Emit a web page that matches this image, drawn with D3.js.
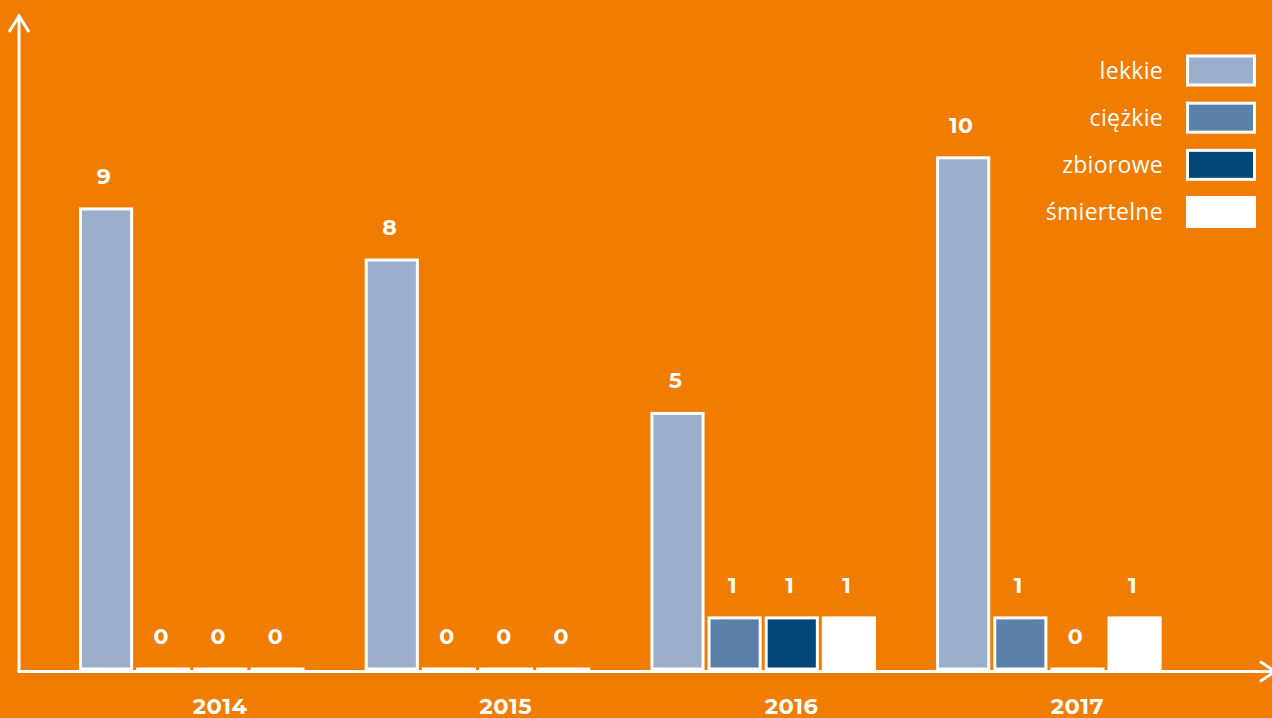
<!DOCTYPE html>
<html>
<head>
<meta charset="utf-8">
<script src="https://cdn.jsdelivr.net/npm/d3@7"></script>
<style>
  html, body { margin: 0; padding: 0; background: #F07D00; }
  svg { display: block; }
</style>
</head>
<body>
<svg id="chart" width="1272" height="718"></svg>
<script>
// ---- data ----
const years = ["2014", "2015", "2016", "2017"];
const series = ["lekkie", "ciężkie", "zbiorowe", "śmiertelne"];
const lekkie = [9, 8, 5, 10];
const ciezkie = [0, 0, 1, 1];
const zbiorowe = [0, 0, 1, 0];
const smiertelne = [0, 0, 1, 1];
const seriesColors = ["#9BAECB", "#5B80A9", "#004676", "#FFFFFF"];

const values = [lekkie, ciezkie, zbiorowe, smiertelne];
const rows = [];
years.forEach((y, i) => series.forEach((s, j) => rows.push({ year: y, series: s, value: values[j][i], si: j })));

// ---- layout ----
const W = 1272, H = 718;
const svg = d3.select("#chart");
const bg = "#F07D00";
svg.append("rect").attr("width", W).attr("height", H).attr("fill", bg);

const fontBold = "Montserrat, 'Open Sans', Lato, sans-serif";

const step = 285.7, pad = 0.2;
const x0 = d3.scaleBand().domain(years)
  .range([78.5, 78.5 + 3 * step + step * (1 - pad)]).paddingInner(pad).paddingOuter(0);
const x1 = d3.scaleBand().domain(series).range([0, x0.bandwidth()]).padding(0);
const y = d3.scaleLinear().domain([0, 10]).range([669, 157.8]);

// bars
const g = svg.append("g");
g.selectAll("rect.bar").data(rows).join("rect")
  .attr("class", "bar")
  .attr("x", d => x0(d.year) + x1(d.series) + 2)
  .attr("width", x1.bandwidth() - 6)
  .attr("y", d => y(d.value))
  .attr("height", d => Math.max(0.01, y(0) - y(d.value)))
  .attr("fill", d => seriesColors[d.si])
  .attr("stroke", "#FFFFFF")
  .attr("stroke-width", 3);

// value labels
g.selectAll("text.val").data(rows).join("text")
  .attr("class", "val")
  .attr("x", d => x0(d.year) + x1(d.series) + x1.bandwidth() / 2 - 3)
  .attr("y", d => y(d.value) - 25)
  .attr("text-anchor", "middle")
  .attr("fill", "#FFFFFF")
  .attr("font-family", fontBold)
  .attr("font-weight", 700)
  .attr("font-size", 22)
  .attr("letter-spacing", 0.5)
  .text(d => d.value);

// axes
const axisY = 671.5, axisX = 19;
const xAxis = d3.axisBottom(x0).tickSize(0).tickPadding(0);
const xg = svg.append("g").attr("transform", `translate(0,${axisY})`).call(xAxis);
xg.select(".domain").remove();
xg.selectAll(".tick").attr("transform", d => `translate(${x0(d) + x0.bandwidth() * 0.62},0)`);
xg.selectAll(".tick text")
  .attr("y", 42).attr("dy", null)
  .attr("fill", "#FFFFFF")
  .attr("font-family", fontBold)
  .attr("font-weight", 700)
  .attr("font-size", 22.5)
  .attr("letter-spacing", 0.5);

const axisG = svg.append("g").attr("stroke", "#FFFFFF").attr("stroke-width", 3).attr("fill", "none");
axisG.append("line").attr("x1", axisX - 1.5).attr("x2", W + 5).attr("y1", axisY).attr("y2", axisY);
axisG.append("line").attr("x1", axisX).attr("x2", axisX).attr("y1", 15).attr("y2", axisY);
axisG.append("path").attr("d", `M${axisX - 10},32 L${axisX},16 L${axisX + 10},32`);
axisG.append("path").attr("d", `M${W - 12},${axisY - 10} L${W + 3},${axisY} L${W - 12},${axisY + 10}`);

// legend
const lg = svg.append("g");
const legY = d3.scalePoint().domain(series).range([70.5, 212]);
series.forEach((s, j) => {
  const cy = legY(s);
  lg.append("rect")
    .attr("x", 1187.5).attr("y", cy - 14.5)
    .attr("width", 67).attr("height", 29)
    .attr("fill", seriesColors[j])
    .attr("stroke", "#FFFFFF").attr("stroke-width", 3);
  lg.append("text")
    .attr("x", 1163).attr("y", cy + 8)
    .attr("text-anchor", "end")
    .attr("fill", "#FFFFFF")
    .attr("font-family", "'Open Sans', Lato, sans-serif")
    .attr("font-weight", 400)
    .attr("font-size", 23)
    .attr("letter-spacing", 0.3)
    .text(s);
});
</script>
</body>
</html>
